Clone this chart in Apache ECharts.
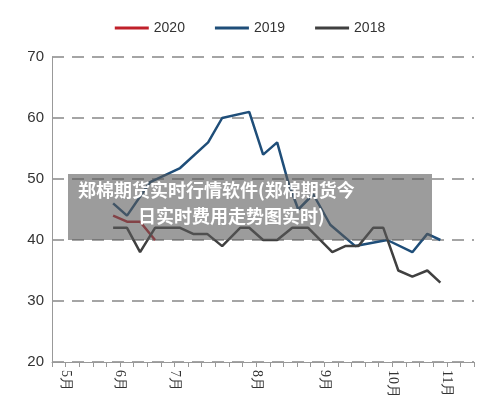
<!DOCTYPE html><html><head><meta charset="utf-8"><script src="https://cdn.jsdelivr.net/npm/echarts@6/dist/echarts.min.js"></script></head><body style="margin:0;background:#fff"><div id="c" style="width:500px;height:416px"></div><script>
const px2w = x => +((x - 52) / 13.6).toFixed(2);
const x2020 = [113,127,140,155].map(px2w);
const v2020 = [44,43,43,40];
const x2019 = [113,127,150,180,208,222,249,263,277,288,298,313,330,355,387,412,427,440].map(px2w);
const v2019 = [46,44,49.5,51.8,56,60,61,54,56,49.5,45,47.5,42.5,39,40,38,41,40];
const x2018 = [113,127,140,155,180,193,207,222,240,249,263,277,292,308,332,345,358,373,383,398,412,427,440].map(px2w);
const v2018 = [42,42,38,42,42,41,41,39,42,42,40,40,42,42,38,39,39,42,42,35,34,35,33];
const monthTicks = {1:'5月',5:'6月',9:'7月',15:'8月',20:'9月',25:'10月',29:'11月'};
const pair = (xs, vs) => xs.map((x, i) => [x, vs[i]]);
const ch = echarts.init(document.getElementById('c'));
const ls = (c) => ({type:'line', symbol:'none', lineStyle:{width:2.5, color:c}, itemStyle:{color:c}});
ch.setOption({
  animation:false,
  legend:{top:16, left:'center', itemWidth:34, itemHeight:3, itemGap:30, textStyle:{fontSize:14, color:'#333', fontFamily:'Liberation Sans'}, data:['2020','2019','2018'], icon:'rect'},
  grid:{left:52, right:26, top:57, bottom:54},
  xAxis:{type:'value', min:0, max:31, interval:1,
    axisLine:{lineStyle:{color:'#999'}}, axisTick:{lineStyle:{color:'#999'}}, splitLine:{show:false},
    axisLabel:{rotate:-90, fontFamily:'Liberation Serif', fontSize:14, color:'#333', formatter:v=>monthTicks[v]||''}},
  yAxis:{type:'value', min:20, max:70, interval:10,
    axisLine:{show:true, lineStyle:{color:'#999'}}, axisTick:{show:false},
    axisLabel:{fontSize:15, color:'#333', fontFamily:'Liberation Sans'},
    splitLine:{lineStyle:{type:[12,8], color:'#888', width:1.5}}},
  series:[
    Object.assign(ls('#c0202a'), {name:'2020', data:pair(x2020,v2020)}),
    Object.assign(ls('#1f4e79'), {name:'2019', data:pair(x2019,v2019)}),
    Object.assign(ls('#404040'), {name:'2018', data:pair(x2018,v2018)})
  ],
  graphic:[
    {type:'rect', shape:{x:68, y:174, width:364, height:66}, style:{fill:'rgba(90,90,90,0.6)'}, z:100},
    {type:'text', x:78, y:181, style:{text:'郑棉期货实时行情软件(郑棉期货今', fill:'#fff', font:'bold 18px "Noto Sans CJK SC"'}, z:101},
    {type:'text', x:138, y:207, style:{text:'日实时费用走势图实时)', fill:'#fff', font:'bold 18px "Noto Sans CJK SC"'}, z:101}
  ]
});
</script></body></html>
